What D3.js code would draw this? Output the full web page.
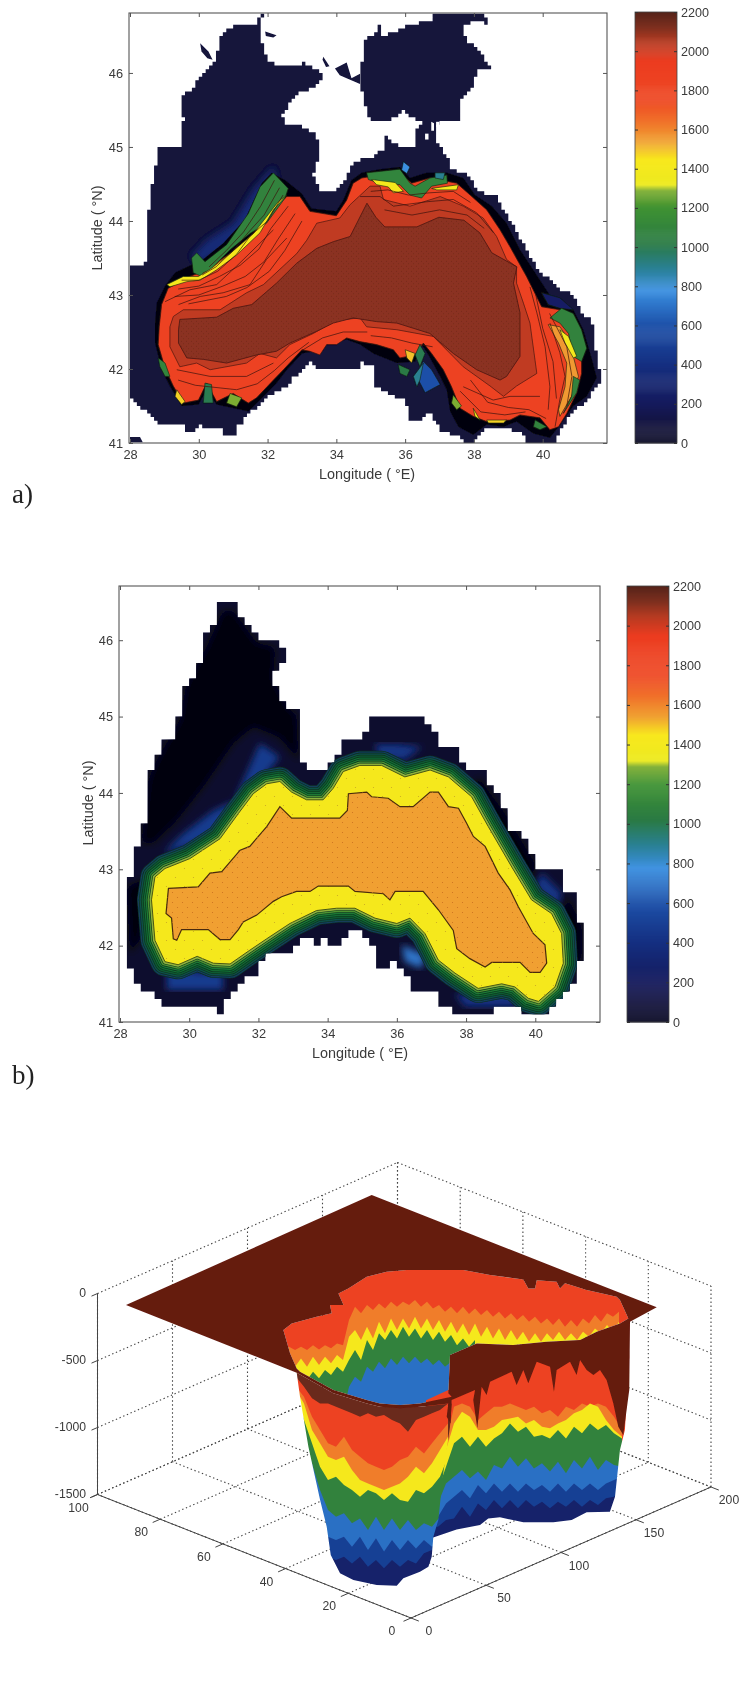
<!DOCTYPE html>
<html>
<head>
<meta charset="utf-8">
<script src="https://cdnjs.cloudflare.com/ajax/libs/d3/7.8.5/d3.min.js"></script>
<style>
body { margin: 0; background: #fff; }
svg { display: block; }
text { font-family: "Liberation Sans", Arial, sans-serif; fill: #3a3a3a; }
.soft text, text.soft { filter: url(#textSoft); }
</style>
</head>
<body>
<script>
// ticks
const lonTicks = [28, 30, 32, 34, 36, 38, 40];
const latTicks = [41, 42, 43, 44, 45, 46];
const depthTicks = [0, 200, 400, 600, 800, 1000, 1200, 1400, 1600, 1800, 2000, 2200];
const xGridTicks = [0, 50, 100, 150, 200];
const yGridTicks = [0, 20, 40, 60, 80, 100];
const zTicks = [0, -500, -1000, -1500];

// colour bar, depth -> colour
const barDepths = [0, 100, 200, 400, 600, 780, 900, 1020, 1200, 1290, 1320, 1450, 1540, 1650, 1750, 1950, 2050, 2120, 2200];
const barColors = ['#17172f', '#14143f', '#151a5c', '#152f80', '#1d50a8', '#3a8fe0', '#2a8090', '#2a7a44', '#3f9233', '#7cad30', '#ecea20', '#f8e81e', '#f0a232', '#f06f2a', '#ee4a25', '#ec3c20', '#b53b22', '#80301f', '#56241a'];

// panel a, [lon, lat] isobaths
const aCoast = [[31.1,46.66],[31.68,46.66],[31.76,46.81],[31.86,46.81],[31.83,46.66],[31.83,46.4],[31.97,46.2],[32.17,46.09],[32.8,46.09],[33.04,46.13],[33.09,46.08],[33.43,46.06],[33.62,45.9],[33.28,45.79],[32.85,45.7],[32.65,45.55],[32.43,45.41],[32.51,45.32],[32.85,45.32],[33.28,45.19],[33.52,45.05],[33.52,44.87],[33.33,44.6],[33.52,44.42],[33.96,44.42],[34.2,44.55],[34.49,44.78],[34.74,44.83],[35.03,44.83],[35.08,44.92],[35.37,44.98],[35.37,45.14],[35.66,45.03],[36.29,45],[36.34,45.27],[36.48,45.34],[36,45.48],[35.61,45.37],[35.03,45.32],[34.79,45.63],[34.69,45.99],[34.84,46.47],[35.13,46.49],[35.17,46.65],[35.27,46.63],[35.27,46.51],[36.34,46.67],[36.77,46.72],[36.82,46.81],[38.32,46.81],[38.37,46.67],[38.08,46.72],[37.69,46.6],[37.79,46.4],[38.13,46.31],[38.45,46.06],[38.08,46.06],[38.03,45.84],[37.65,45.63],[37.62,45.34],[37.02,45.34],[36.84,45.18],[36.97,45],[37.23,44.87],[37.31,44.69],[37.79,44.65],[38.08,44.4],[38.61,44.33],[38.95,44.06],[39.34,43.75],[39.83,43.36],[40.41,43.09],[40.89,43],[41.13,42.75],[41.42,42.64],[41.57,42.15],[41.72,41.85],[41.38,41.59],[40.99,41.45],[40.79,41.36],[40.36,41.02],[39.53,41.02],[39.44,41.13],[38.86,41.22],[38.37,41.22],[38.03,41.02],[37.79,41.02],[37.5,41.11],[37.02,41.18],[36.77,41.41],[36.34,41.25],[36.14,41.34],[36,41.59],[35.37,41.7],[35.08,41.81],[35.08,42.06],[34.69,42.08],[34.69,42.01],[33.43,42.01],[33.28,42.08],[32.56,41.77],[32.17,41.67],[31.78,41.49],[31.49,41.41],[31.2,41.23],[31.05,41.09],[30.76,41.09],[30.67,41.18],[30.28,41.18],[30.13,41.23],[29.94,41.16],[29.65,41.18],[29.55,41.25],[28.92,41.27],[28.44,41.47],[28.05,41.59],[28,43.41],[28.44,43.43],[28.49,43.74],[28.58,44.37],[28.73,44.73],[28.82,44.87],[28.82,44.99],[29.45,44.99],[29.55,45.41],[29.45,45.7],[29.55,45.73],[29.79,45.77],[29.89,45.9],[30.04,45.93],[30.47,46.18],[30.67,46.54]];
const aIslets = [[[30.04,46.4],[30.28,46.29],[30.4,46.18],[30.25,46.2],[30.08,46.29]], [[31.93,46.56],[32.26,46.51],[32.17,46.48],[31.95,46.5]], [[33.62,46.22],[33.8,46.09],[33.7,46.08],[33.6,46.18]], [[33.96,46.06],[34.3,46.14],[34.44,45.93],[34.69,45.99],[34.69,45.85],[34.3,45.93],[34.1,45.97]], [[28,41.08],[28.29,41.08],[28.37,41.01],[28,41.01]]];
const aGaps = [[[36.76,45.34],[36.84,45.32],[36.84,45.22],[36.76,45.22]], [[36.58,45.18],[36.68,45.18],[36.68,45.1],[36.58,45.1]], [[36.9,45.34],[37,45.34],[37,45.27],[36.9,45.27]]];
const aBlueTongue = [[32.17,44.73],[31.59,44.42],[31,43.97],[30.23,43.74],[29.79,43.52],[30.04,43.43],[30.91,43.66],[31.68,43.97],[32.26,44.51]];
const aBlackFringe = [[28.73,42.62],[28.78,42.89],[29.02,43.12],[29.31,43.3],[29.79,43.41],[30.04,43.45],[30.71,43.7],[31.34,44.02],[31.83,44.51],[32.12,44.65],[32.51,44.55],[32.99,44.37],[33.28,44.17],[34,44.13],[34.2,44.28],[34.44,44.55],[34.74,44.65],[35.27,44.7],[35.85,44.73],[36.14,44.58],[36.63,44.65],[37.21,44.65],[37.69,44.58],[38.03,44.35],[38.52,44.2],[38.95,43.97],[39.34,43.61],[39.78,43.3],[40.26,42.96],[40.89,42.8],[41.18,42.53],[41.42,42.15],[41.57,41.88],[41.28,41.63],[40.89,41.5],[40.46,41.22],[40.21,41.07],[39.73,41.13],[39.24,41.29],[38.86,41.22],[38.37,41.25],[37.98,41.11],[37.55,41.22],[37.31,41.43],[37.21,41.72],[37.02,41.9],[36.68,42.19],[36.48,42.33],[36.29,42.1],[35.76,42.08],[35.08,42.21],[34.69,42.33],[34.3,42.4],[33.72,42.33],[33.33,42.24],[33,42.21],[32.56,41.99],[32.26,41.81],[31.78,41.58],[31.44,41.43],[30.52,41.52],[30.23,41.72],[29.99,41.52],[29.5,41.5],[29.16,41.77],[28.92,41.99],[28.73,42.35]];
const aRed = [[28.85,42.57],[28.92,42.87],[29.11,43.09],[29.74,43.25],[30.13,43.32],[30.91,43.56],[31.59,43.83],[32.26,44.2],[32.56,44.33],[32.94,44.33],[33.23,44.13],[34,44.07],[34.3,44.28],[34.49,44.51],[34.74,44.58],[35.27,44.62],[35.85,44.65],[36.19,44.51],[36.72,44.58],[37.5,44.51],[37.89,44.35],[38.37,44.15],[38.76,43.88],[39.05,43.65],[39.53,43.25],[39.97,42.84],[40.5,42.8],[40.89,42.57],[41.13,42.3],[41.13,41.94],[40.99,41.68],[40.7,41.4],[40.46,41.22],[40.21,41.18],[39.92,41.34],[39.34,41.38],[39.05,41.31],[38.37,41.29],[37.98,41.36],[37.6,41.47],[37.35,41.76],[37.11,41.99],[36.77,42.21],[36.53,42.35],[36.29,42.19],[35.85,42.15],[35.66,42.26],[35.17,42.33],[34.69,42.37],[34.3,42.42],[34.01,42.33],[33.72,42.33],[33.52,42.19],[33.23,42.24],[33,42.26],[32.46,41.99],[32.17,41.85],[31.68,41.61],[31.44,41.54],[31,41.67],[30.52,41.56],[30.23,41.81],[29.99,41.58],[29.55,41.54],[29.26,41.77],[29.02,42.01],[28.82,42.33]];
const aDarkRed = [[29.16,42.57],[29.26,42.71],[29.55,42.8],[30.62,42.8],[31.39,43.03],[31.88,43.14],[32.85,43.56],[33.14,43.74],[33.43,43.97],[34.1,44.04],[34.4,44.22],[34.98,44.47],[35.27,44.47],[35.37,44.29],[36.14,44.2],[37.02,44.33],[37.69,44.2],[38.27,44.04],[38.66,43.79],[38.95,43.48],[39.24,43.38],[39.24,43.16],[39.44,42.89],[39.63,42.62],[39.83,41.94],[39.24,41.77],[38.86,41.63],[38.47,41.77],[37.69,42.03],[36.82,42.44],[35.76,42.53],[34.88,42.57],[34.69,42.69],[34.01,42.66],[33.33,42.48],[32.65,42.33],[32.26,42.15],[31.78,42.21],[31.39,42.08],[30.33,41.99],[29.94,42.08],[29.45,42.03],[29.16,42.3]];
const aBrown = [[29.41,42.53],[29.45,42.67],[30.52,42.7],[31,42.82],[31.54,42.87],[32.26,43.16],[32.85,43.43],[33.43,43.63],[33.91,43.72],[34.4,43.79],[34.89,44.24],[35.15,44.05],[35.41,43.92],[36.34,43.92],[36.98,44.05],[37.71,44.01],[38.17,43.84],[38.52,43.57],[39.25,43.38],[39.15,43.16],[39.34,42.76],[39.34,42.17],[38.95,41.9],[38.76,41.85],[38.08,41.99],[37.4,42.21],[36.72,42.48],[35.76,42.62],[35.17,42.64],[34.49,42.69],[33.91,42.62],[33.43,42.51],[32.65,42.35],[32.26,42.24],[31.68,42.19],[30.81,42.08],[30.13,42.13],[29.65,42.15],[29.41,42.35]];
const aContours = [[[29.02,42.91],[29.74,43.07],[30.52,43.14],[31.1,43.39],[31.78,43.7],[32.17,43.88]], [[29.41,42.87],[30.04,42.98],[30.71,43.03],[31.49,43.14],[31.97,43.48],[32.56,43.77]], [[34.69,44.33],[35.27,44.33],[35.66,44.2],[36.63,44.26],[37.4,44.29],[38.08,44.11],[38.57,43.84]], [[39.63,43.11],[39.83,42.76],[40.07,42.3],[40.21,41.76],[40.16,41.45]], [[40.21,42.62],[40.5,42.22],[40.65,41.9],[40.5,41.59],[40.36,41.22]], [[37.69,41.76],[38.56,41.58],[39.05,41.63],[39.92,41.63]], [[29.36,41.99],[30.33,41.9],[31.39,41.9],[32.17,42.08]],
  [[32.2,44.55],[31.8,44.2],[31.3,43.85],[30.8,43.6],[30.3,43.38]], [[32.35,44.45],[31.9,44.08],[31.45,43.85],[31,43.6],[30.5,43.38],[30.1,43.27]], [[32.45,44.35],[32,44],[31.5,43.8],[31.1,43.55],[30.55,43.32],[30,43.2],[29.5,43.2]],
  [[32.6,44.2],[32.1,43.9],[31.75,43.62],[31.2,43.4],[30.6,43.25],[30,43.12],[29.4,43.08]], [[32.8,44.1],[32.3,43.75],[31.9,43.45],[31.35,43.25],[30.7,43.12],[30,43],[29.3,42.98]], [[33,44],[32.5,43.6],[32.05,43.32],[31.4,43.1],[30.8,42.98],[29.7,42.88]],
  [[33.2,42.36],[32.6,42.15],[32.2,41.98],[31.7,41.8],[31.1,41.72],[30.5,41.75],[29.9,41.78],[29.4,41.85]], [[34.9,42.5],[34.2,42.5],[33.6,42.42],[33,42.25]], [[36.8,42.3],[36.2,42.35],[35.6,42.42],[35,42.45]],
  [[37.9,41.85],[38.4,41.55],[39,41.48],[39.6,41.45],[40.1,41.33]], [[37.6,41.7],[38.2,41.42],[38.9,41.38],[39.5,41.42]], [[39.8,43],[40,42.55],[40.3,42.1],[40.4,41.6]], [[40.2,42.75],[40.7,42.3],[40.85,41.9],[40.7,41.5]],
  [[35,44.4],[35.5,44.42],[36.1,44.35],[36.7,44.38],[37.4,44.4],[37.9,44.25]], [[35.4,44.15],[36.2,44.08],[37,44.15],[37.8,44.08],[38.3,43.9]]];
// patches of shallower water on the slope
const aPatchDepths = [1080, 1420, 1100, 1420, 1420, 780, 900, 250, 1080, 1560, 1400, 1080, 600, 900, 1020, 1500, 1000, 1400, 1080, 1480, 1290, 1100, 1000, 1290, 1480];
const aPatches = [
  [[32.17,44.65],[32.6,44.44],[32.51,44.31],[31.97,43.97],[31.49,43.83],[30.91,43.61],[30.33,43.34],[30.13,43.3],[30.08,43.25],[29.84,43.3],[29.79,43.5],[29.94,43.57],[30.18,43.45],[30.81,43.68],[31.44,44.1],[31.78,44.46]],
  [[32.56,44.35],[32.17,44.15],[31.78,43.84],[31.1,43.54],[30.52,43.34],[30.04,43.2],[29.65,43.18],[29.16,43.11],[29.07,43.14],[29.55,43.25],[29.99,43.25],[30.37,43.36],[30.91,43.56],[31.59,43.83],[32.31,44.26]],
  [[34.88,44.65],[35.85,44.7],[36.14,44.51],[36.29,44.47],[36.72,44.58],[37.21,44.62],[37.23,44.51],[36.77,44.47],[36.48,44.31],[36.14,44.35],[35.85,44.49],[35.27,44.51],[34.93,44.56]],
  [[35.03,44.56],[35.71,44.52],[35.95,44.4],[35.66,44.38],[35.51,44.46],[35.17,44.49]],
  [[36.77,44.44],[37.55,44.49],[37.5,44.42],[36.92,44.42]],
  [[35.95,44.8],[36.14,44.73],[36.05,44.64],[35.9,44.69]],
  [[36.87,44.65],[37.16,44.65],[37.11,44.56],[36.87,44.58]],
  [[39.97,43.03],[40.5,42.96],[40.89,42.8],[40.5,42.82],[40.16,42.87]],
  [[40.21,42.69],[40.55,42.82],[40.89,42.75],[41.13,42.53],[41.28,42.28],[41.13,42.1],[40.89,42.17],[40.75,42.48],[40.5,42.62]],
  [[40.16,42.6],[40.5,42.57],[40.75,42.4],[40.89,42.17],[41.04,41.9],[40.84,41.63],[40.5,41.36],[40.46,41.45],[40.65,41.76],[40.7,42.08],[40.46,42.35]],
  [[40.5,42.53],[40.75,42.44],[40.99,42.17],[40.89,42.15],[40.65,42.35]],
  [[40.89,41.9],[41.08,41.85],[40.99,41.68],[40.6,41.4],[40.84,41.63]],
  [[36.53,42.1],[36.77,41.99],[37.02,41.79],[36.58,41.68],[36.39,41.85],[36.43,42.03]],
  [[36.24,41.9],[36.53,42.08],[36.43,41.85],[36.34,41.76]],
  [[35.8,42.06],[36.14,41.99],[36.05,41.9],[35.85,41.94]],
  [[36,42.26],[36.29,42.21],[36.19,42.08],[36.05,42.15]],
  [[36.43,42.33],[36.58,42.21],[36.43,42.03],[36.29,42.19]],
  [[37.98,41.47],[38.18,41.31],[38.03,41.36]],
  [[39.78,41.31],[40.12,41.22],[39.92,41.18],[39.73,41.22]],
  [[38.37,41.31],[38.95,41.31],[38.86,41.27],[38.42,41.27]],
  [[37.4,41.65],[37.64,41.5],[37.5,41.45],[37.35,41.54]],
  [[28.82,42.15],[29.02,42.08],[29.16,41.9],[29.02,41.9],[28.87,42.03]],
  [[30.18,41.81],[30.37,41.79],[30.42,41.54],[30.13,41.54]],
  [[30.91,41.67],[31.25,41.61],[31.1,41.49],[30.81,41.54]],
  [[29.36,41.72],[29.6,41.56],[29.5,41.52],[29.31,41.63]]
];

// panel b, smoothed [lon, lat] isobaths
const bCoast = [[30.86,46.46],[31.32,46.46],[31.42,46.33],[31.75,46.13],[32.04,45.98],[32.57,45.96],[32.62,45.85],[32.79,45.83],[32.79,45.72],[32.48,45.52],[32.52,45.28],[32.81,45.11],[33.2,45.08],[33.2,44.73],[33.28,44.39],[33.49,44.28],[33.83,44.28],[34.4,44.56],[34.4,44.7],[34.93,44.7],[35.27,44.95],[36.19,44.95],[36.23,45.03],[36.62,45.03],[36.86,44.93],[37.15,44.69],[37.2,44.6],[37.58,44.56],[38.02,44.28],[38.4,44.25],[39.03,43.82],[39.27,43.55],[39.7,43.34],[40.09,43.03],[40.57,43.03],[40.86,42.73],[41.15,42.71],[41.19,42.38],[41.39,42.25],[41.41,41.85],[41.19,41.55],[40.95,41.38],[40.38,41.11],[39.61,41.09],[39.51,41.2],[38.79,41.2],[38.74,41.09],[37.87,41.09],[37.39,41.24],[37.1,41.38],[36.43,41.46],[36.38,41.64],[36.04,41.77],[35.46,41.7],[35.42,41.9],[35.08,42.16],[34.79,42.27],[34.64,42.12],[34.4,42.01],[34.11,42.01],[33.97,42.14],[33.73,42.01],[33.49,42.14],[33.25,42.07],[32.81,41.87],[32.33,41.87],[31.95,41.64],[31.56,41.48],[31.13,41.33],[31.03,41.14],[30.79,41.14],[30.7,41.2],[29.73,41.2],[29.25,41.2],[28.96,41.37],[28.58,41.46],[28.38,41.68],[28.19,41.74],[28.1,42.03],[28.1,42.86],[28.34,43.03],[28.34,43.3],[28.58,43.38],[28.72,43.73],[28.77,44.17],[28.91,44.41],[29.01,44.52],[29.2,44.69],[29.59,44.78],[29.68,44.95],[29.78,45.3],[30.02,45.46],[30.45,45.91],[30.45,46.09],[30.79,46.22]];
const bYellow = [[28.91,42.6],[29.01,42.9],[29.3,43.01],[30.02,43.14],[30.89,43.4],[31.42,43.73],[31.85,43.99],[32.24,44.12],[32.62,44.15],[32.96,44.01],[33.39,43.91],[33.87,43.91],[34.16,44.06],[34.45,44.28],[34.93,44.36],[35.56,44.36],[36.23,44.21],[36.96,44.3],[37.49,44.21],[38.16,43.95],[38.64,43.56],[39.32,43.03],[39.89,42.6],[40.47,42.42],[40.76,42.16],[40.81,41.77],[40.57,41.46],[40.09,41.27],[39.8,41.31],[39.41,41.46],[39.03,41.5],[38.35,41.44],[37.68,41.64],[37.2,41.81],[36.81,42.16],[36.38,42.36],[36,42.29],[35.37,42.36],[34.79,42.49],[34.26,42.49],[33.68,42.46],[32.91,42.29],[32.24,42.09],[31.75,41.94],[31.18,41.76],[30.7,41.77],[30.23,41.86],[29.68,41.75],[29.3,41.79],[29.01,42.07]];
const bOrange = [[29.4,42.75],[30.26,42.77],[30.6,42.95],[30.94,42.97],[31.47,43.25],[31.75,43.3],[32.24,43.56],[32.62,43.82],[32.96,43.67],[34.35,43.67],[34.57,43.77],[34.6,43.99],[35.13,44.01],[35.27,43.95],[35.75,43.93],[36.09,43.82],[36.47,43.82],[36.96,44.01],[37.2,44.01],[37.49,43.82],[37.78,43.8],[38.02,43.6],[38.21,43.43],[38.55,43.3],[38.93,42.95],[39.27,42.73],[39.51,42.51],[39.94,42.16],[40.28,42.01],[40.33,41.77],[40.14,41.65],[39.85,41.65],[39.56,41.78],[38.74,41.78],[38.55,41.72],[38.11,41.83],[37.73,41.96],[37.63,42.2],[37.2,42.47],[36.76,42.71],[35.95,42.71],[35.8,42.6],[35.61,42.68],[34.79,42.71],[34.6,42.78],[33.73,42.78],[33.49,42.71],[33.1,42.71],[32.67,42.64],[32.43,42.58],[31.95,42.4],[31.56,42.31],[31.42,42.21],[31.18,42.08],[30.89,42.08],[30.55,42.21],[29.78,42.21],[29.64,42.07],[29.54,42.09],[29.49,42.36],[29.33,42.42]];
const bBlack = [[[30.98,46.39],[31.27,46.39],[31.95,45.96],[32.48,45.91],[32.43,45.48],[32.91,45.08],[33.1,45.04],[33.15,44.43],[32.62,44.73],[31.85,44.87],[31.27,44.65],[30.41,44.08],[29.64,43.64],[28.96,43.34],[28.62,43.34],[28.82,44.17],[29.06,44.43],[29.73,44.95],[29.92,45.43],[30.5,45.91]], [[38.35,44.21],[39.12,43.73],[39.99,43.08],[39.89,42.82],[39.03,43.43],[38.16,44.03]], [[28.19,42.77],[28.87,42.9],[28.58,42.07],[28.29,41.9]], [[40.95,42.64],[41.34,42.25],[41.34,41.85],[40.95,41.55],[40.76,42.42]]];
const bGlowDepths = [470, 700, 430, 470, 420, 430];
const bGlows = [[[32.04,44.65],[32.62,44.47],[31.75,43.99],[30.7,43.77],[29.83,43.47],[29.25,43.21],[29.92,43.3],[30.89,43.47]], [[36.14,42.01],[36.81,41.88],[36.71,41.7],[36.23,41.79]], [[35.37,44.64],[36.04,44.64],[36.72,44.6],[36.23,44.43],[35.46,44.47]], [[29.35,41.68],[30.98,41.64],[30.98,41.42],[29.35,41.42]], [[37.68,41.37],[39.41,41.37],[39.41,41.2],[37.97,41.2]], [[40.18,42.95],[40.76,42.69],[40.66,42.51],[39.99,42.77]]];
const bRingColors = ['#123c5a', '#0f4f4a', '#0c5a33', '#126b33', '#1c7a35', '#4d9433', '#8fb33c'];

// panel c, walls of the surface: depth at which each colour starts, column by column
const farOrange = [-426,-401,-426,-401,-426,-389,-421,-389,-413,-376,-389,-202,-102,-152,-90,-127,-78,-115,-65,-102,-65,-90,-53,-102,-65,-115,-90,-140,-102,-152,-102,-157,-115,-165,-127,-177,-140,-190,-152,-202,-165,-214,-177,-227,-190,-239,-190,-252,-202,-252,-190,-227,-165,-214,-152,-177,-140];
const farYellow = [-550,-500,-550,-488,-550,-476,-538,-476,-525,-463,-500,-326,-277,-351,-252,-339,-214,-301,-190,-277,-190,-264,-177,-264,-190,-277,-202,-289,-214,-301,-227,-314,-227,-326,-252,-339,-264,-351,-277,-351,-289,-364,-301,-364,-301,-351,-289,-351,-301,-351,-289,-326,-264,-301,-239,-289,-214];
const farGreen = [-650,-625,-662,-600,-650,-587,-637,-575,-612,-550,-587,-500,-426,-500,-351,-426,-301,-351,-277,-339,-252,-326,-264,-339,-277,-351,-289,-364,-314,-389,-339,-401,-351];
const farBlue = [-900,-900,-900,-900,-900,-900,-900,-900,-900,-900,-900,-699,-625,-662,-550,-587,-513,-562,-488,-538,-476,-525,-476,-525,-488,-538,-500,-550,-513,-550,-525,-575,-550];

const leftRed = [-625,-699,-786,-824,-824,-849,-873,-898,-923,-898,-923,-911,-948,-973,-1035,-948,-923,-898,-873,-824];
const leftOrange = [-699,-774,-923,-1023,-1122,-1147,-1072,-1172,-1222,-1271,-1296,-1321,-1296,-1246,-1222,-1147,-1197,-1122,-1047,-973];
const leftYellow = [-724,-824,-1023,-1122,-1222,-1246,-1222,-1321,-1396,-1421,-1446,-1470,-1446,-1421,-1371,-1296,-1346,-1271,-1172,-1072];
const leftGreen = [-774,-948,-1122,-1296,-1396,-1371,-1433,-1470,-1520,-1470,-1495,-1545,-1495,-1545,-1557,-1470,-1495,-1446,-1371,-1222];
const leftBlue = [-973,-1122,-1271,-1470,-1620,-1669,-1644,-1719,-1682,-1769,-1669,-1769,-1682,-1769,-1694,-1769,-1719,-1744,-1669,-1470];
const leftRoyal = [-1470,-1470,-1620,-1719,-1819,-1843,-1819,-1893,-1819,-1918,-1831,-1930,-1843,-1918,-1843,-1906,-1843,-1893,-1843,-1719];
const leftNavy = [-1719,-1843,-1918,-1943,-1968,-1993,-1968,-2018,-1968,-2042,-1993,-2055,-1993,-2042,-1993,-2018,-1943,-1918,-1943,-1843];

const rightOrange = [-1321,-1321,-1321,-1122,-849,-824,-849,-948,-898,-849,-849,-824,-849,-873,-849,-898,-873,-923,-849,-873,-824,-849,-824,-849,-923,-1023];
const rightYellow = [-1421,-1421,-1421,-1172,-973,-886,-923,-1023,-1023,-998,-948,-936,-923,-973,-948,-998,-1010,-973,-948,-898,-873,-824,-849,-948,-1023,-1072];
const rightGreen = [-1470,-1470,-1470,-1296,-1122,-1072,-1147,-1072,-1147,-1085,-1047,-973,-1035,-998,-1072,-1060,-1085,-1023,-1085,-998,-1047,-973,-1023,-986,-1047,-1085];
const rightBlue = [-1570,-1570,-1570,-1421,-1371,-1321,-1383,-1333,-1396,-1284,-1309,-1222,-1296,-1234,-1309,-1271,-1333,-1259,-1346,-1246,-1309,-1222,-1321,-1246,-1284,-1296];
const rightRoyal = [-1669,-1669,-1669,-1570,-1520,-1470,-1532,-1433,-1495,-1421,-1483,-1421,-1483,-1421,-1470,-1433,-1483,-1421,-1483,-1421,-1470,-1421,-1470,-1421,-1396,-1371];
const rightNavy = [-1744,-1744,-1744,-1694,-1682,-1595,-1669,-1570,-1620,-1545,-1607,-1545,-1607,-1545,-1595,-1557,-1607,-1557,-1595,-1545,-1595,-1545,-1582,-1532,-1520,-1470];

// [along view, depth on the z axis scale]
const topPlane = [[-190,-90],[-26.2,731],[163.8,-107],[146,-214],[145.5,-724],[141.5,-1060],[138.2,-998],[134.9,-824],[130.4,-650],[126,-575],[121.6,-612],[117.1,-575],[112.7,-500],[110.4,-612],[106,-513],[97.1,-575],[95.3,-737],[92.7,-550],[83.8,-513],[78.2,-674],[74.9,-575],[70.4,-687],[67.1,-587],[52.7,-662],[50.4,-761],[47.1,-699],[44.2,-1010],[41.5,-799],[42.7,-724],[27.1,-799],[26.4,-973],[23.8,-923],[24.9,-824],[6,-849],[-7.3,-861],[-20.7,-849],[-29.5,-824],[-51.7,-749],[-76.2,-595]];
const topHole = [[-85.1,-276],[-79.5,-227],[-62.9,-177],[-52.9,-152],[-54,-90],[-45,-90],[-48.4,-3],[-41.8,34],[-29.5,121],[-16.2,159],[-2.9,171],[34.9,171],[52.7,134],[74.9,101],[78.2,34],[82.7,34],[83.8,96],[97.1,84],[99.3,34],[102.7,72],[117.1,22],[137.1,-28],[139.3,-53],[144.9,-190],[139.3,-227],[123.8,-289],[112.7,-351],[90.4,-364],[68.2,-388],[43.8,-376],[26,-463],[24.9,-749],[27.1,-774],[6,-824],[-7.3,-836],[-20.7,-824],[-29.5,-799],[-51.7,-724],[-74,-587],[-76.2,-563],[-80.6,-451]];
const leftWall = [[-76.2,-595],[-74,-774],[-68.4,-1147],[-60.6,-1545],[-56.2,-1744],[-53.5,-1955],[-47.3,-2092],[-38.4,-2142],[-22.9,-2179],[-9.5,-2184],[-5.1,-2129],[6,-2080],[11.6,-2042],[13.8,-1968],[14.9,-1819],[18.2,-1694],[21.5,-1346],[26,-998],[27.1,-824],[6,-849],[-20.7,-849],[-29.5,-824],[-51.7,-749]];
const rightWall = [[8,-1850],[30.4,-1764],[46,-1731],[51.5,-1682],[59.3,-1674],[74.9,-1711],[94.9,-1711],[107.1,-1694],[117.1,-1637],[132.6,-1632],[136,-1520],[139.3,-1172],[142.6,-1023],[145.5,-476],[144.9,-277],[112.7,-401],[24.9,-724],[10,-800]];

const color = d3.scaleLinear().domain(barDepths).range(barColors);

const svg = d3.select("body").append("svg").attr("width", 741).attr("height", 1690);

const defs = svg.append("defs");
[["soft", 0.7], ["softer", 3.5], ["textSoft", 0.35]].forEach(f => {
    defs.append("filter").attr("id", f[0])
        .attr("x", "-10%").attr("y", "-10%").attr("width", "120%").attr("height", "120%")
        .append("feGaussianBlur").attr("stdDeviation", f[1]);
});
// grain of the printed colours
[["grainBrown", "#5e2014", 2.5, .4], ["grainYellow", "#c9a820", 9, .6], ["grainOrange", "#c9701e", 5, .6]].forEach(p => {
    const pat = defs.append("pattern").attr("id", p[0]).attr("patternUnits", "userSpaceOnUse")
        .attr("width", p[2] * 2).attr("height", p[2] * 2);
    pat.append("circle").attr("cx", p[2] * .5).attr("cy", p[2] * .5).attr("r", p[3]).attr("fill", p[1]);
    pat.append("circle").attr("cx", p[2] * 1.5).attr("cy", p[2] * 1.5).attr("r", p[3]).attr("fill", p[1]);
});

// snap an outline to the model grid, so that it gets its stepped edge
function staircase(pts, dLon, dLat) {
    const out = [];
    const snap = p => [Math.round(p[0] / dLon) * dLon, Math.round(p[1] / dLat) * dLat];
    pts.forEach((p, i) => {
        const q = pts[(i + 1) % pts.length];
        const n = Math.ceil(Math.max(Math.abs(q[0] - p[0]) / dLon, Math.abs(q[1] - p[1]) / dLat)) || 1;
        d3.range(n).forEach(k => {
            const s = snap([p[0] + (q[0] - p[0]) * k / n, p[1] + (q[1] - p[1]) * k / n]);
            const last = out[out.length - 1];
            if (last && last[0] !== s[0] && last[1] !== s[1]) out.push([s[0], last[1]]);
            if (!last || last[0] !== s[0] || last[1] !== s[1]) out.push(s);
        });
    });
    return out;
}

function drawFrame(g, x, y, title, titleX, titleY, ylabelX, ylabelY) {
    const x0 = x.range()[0] - 1, x1 = x.range()[1];
    const y0 = y.range()[0], y1 = y.range()[1];
    g.append("rect").attr("x", x0).attr("y", y1).attr("width", x1 - x0).attr("height", y0 - y1)
        .attr("fill", "none").attr("stroke", "#555").attr("stroke-width", 1.1);
    const axes = [
        [d3.axisBottom(x).tickValues(lonTicks).tickFormat(d3.format("d")).tickSize(-4).tickPadding(7), 0, y0],
        [d3.axisTop(x).tickValues(lonTicks).tickFormat("").tickSize(-4), 0, y1],
        [d3.axisLeft(y).tickValues(latTicks).tickFormat(d3.format("d")).tickSize(-4).tickPadding(6), x0, 0],
        [d3.axisRight(y).tickValues(latTicks).tickFormat("").tickSize(-4), x1, 0]
    ];
    axes.forEach(a => {
        g.append("g").attr("transform", `translate(${a[1]},${a[2]})`).call(a[0])
         .call(s => s.select(".domain").remove())
         .call(s => s.selectAll("line").attr("stroke", "#555"))
         .call(s => s.selectAll("text").attr("class", "soft").attr("font-size", 12.8).attr("font-family", null).style("fill", "#3a3a3a"));
    });
    g.append("text").attr("class", "soft").attr("x", titleX).attr("y", titleY).attr("text-anchor", "middle")
        .attr("font-size", 14.4).text(title);
    g.append("text").attr("class", "soft").attr("transform", `translate(${ylabelX},${ylabelY}) rotate(-90)`)
        .attr("text-anchor", "middle").attr("font-size", 14.4).text("Latitude ( \u00b0N)");
}

function drawBar(g, x0, x1, y0, y1) {
    const y = d3.scaleLinear().domain([0, 2200]).range([y0, y1]);
    g.append("g").selectAll("rect").data(d3.range(0, 2200, 5)).join("rect")
        .attr("x", x0).attr("width", x1 - x0)
        .attr("y", d => y(d + 5)).attr("height", d => y(d) - y(d + 5) + .5)
        .attr("fill", d => color(d + 2.5));
    g.append("rect").attr("x", x0).attr("y", y1).attr("width", x1 - x0).attr("height", y0 - y1)
        .attr("fill", "none").attr("stroke", "#444").attr("stroke-width", .8);
    g.append("g").attr("transform", `translate(${x1},0)`)
        .call(d3.axisRight(y).tickValues(depthTicks).tickFormat(d3.format("d")).tickSize(-3).tickPadding(4))
        .call(s => s.select(".domain").remove())
        .call(s => s.selectAll("line").attr("stroke", "#333"))
        .call(s => s.selectAll("text").attr("class", "soft").attr("font-size", 12.6).attr("font-family", null).style("fill", "#3a3a3a"));
    g.append("g").attr("transform", `translate(${x0},0)`)
        .call(d3.axisLeft(y).tickValues(depthTicks).tickFormat("").tickSize(-3))
        .call(s => s.select(".domain").remove())
        .call(s => s.selectAll("line").attr("stroke", "#333"));
}

// ---------- a) ----------
{
    const x = d3.scaleLinear().domain([28, 41.87]).range([130, 607]);
    const y = d3.scaleLinear().domain([41, 46.81]).range([443, 13]);
    const line = d3.line().x(d => x(d[0])).y(d => y(d[1]));
    const poly = d => line(d) + "Z";
    const g = svg.append("g");
    const coast = staircase(aCoast, .1, .05);

    defs.append("clipPath").attr("id", "aClip").append("path").attr("d", poly(coast));

    const sea = g.append("g").attr("filter", "url(#soft)");
    sea.append("path").attr("d", poly(coast)).attr("fill", "#12123a");
    sea.selectAll(".islet").data(aIslets).join("path").attr("class", "islet").attr("d", poly).attr("fill", "#12123a");
    sea.selectAll(".gap").data(aGaps).join("path").attr("class", "gap").attr("d", poly).attr("fill", "#fff");
    sea.append("path").attr("d", poly(aBlueTongue)).attr("fill", color(350)).attr("filter", "url(#softer)").attr("clip-path", "url(#aClip)");
    sea.append("path").attr("d", poly(aBlackFringe)).attr("fill", "#060608");
    sea.append("path").attr("d", poly(aRed)).attr("fill", color(1850)).attr("stroke", "#3c120c").attr("stroke-width", .7);
    sea.append("path").attr("d", poly(aDarkRed)).attr("fill", color(2030)).attr("stroke", "#4a1510").attr("stroke-width", .7);
    sea.append("path").attr("d", poly(aBrown)).attr("fill", color(2105)).attr("stroke", "#4a1510").attr("stroke-width", .8);
    sea.append("path").attr("d", poly(aBrown)).attr("fill", "url(#grainBrown)");
    sea.selectAll(".patch").data(aPatches).join("path").attr("class", "patch").attr("d", poly)
        .attr("fill", (d, i) => color(aPatchDepths[i])).attr("stroke", "#10200f").attr("stroke-width", .6);
    sea.selectAll(".iso").data(aContours).join("path").attr("class", "iso").attr("d", line)
        .attr("fill", "none").attr("stroke", "#3c120c").attr("stroke-width", .7);

    drawFrame(g, x, y, "Longitude ( \u00b0E)", 367, 479, 102, 228);
    drawBar(g, 635, 677, 443, 12);
}
svg.append("text").attr("class", "soft").attr("x", 12).attr("y", 503)
    .attr("font-size", 27).style("font-family", "'Liberation Serif', serif").style("fill", "#222").text("a)");

// ---------- b) ----------
{
    const x = d3.scaleLinear().domain([28, 41.87]).range([120, 600]);
    const y = d3.scaleLinear().domain([41, 46.71]).range([1022, 586]);
    const line = d3.line().x(d => x(d[0])).y(d => y(d[1]));
    const poly = d => line(d) + "Z";
    const g = svg.append("g");
    const coast = staircase(bCoast, .2, .1);

    defs.append("clipPath").attr("id", "bClip").append("path").attr("d", poly(coast));

    const sea = g.append("g").attr("filter", "url(#soft)");
    sea.append("path").attr("d", poly(coast)).attr("fill", "#0d0d2e");
    const inner = sea.append("g").attr("clip-path", "url(#bClip)");
    inner.selectAll(".glow").data(bGlows).join("path").attr("class", "glow").attr("d", poly)
        .attr("fill", (d, i) => color(bGlowDepths[i])).attr("filter", "url(#softer)");
    inner.selectAll(".black").data(bBlack).join("path").attr("class", "black").attr("d", poly)
        .attr("fill", "#05050f").attr("filter", "url(#softer)");
    // green slope around the 1300 m isobath, darkest at the outside
    bRingColors.forEach((c, i) => {
        const half = 14 - i * 2;
        inner.append("path").attr("d", poly(bYellow)).attr("fill", "none").attr("stroke-linejoin", "round")
            .attr("stroke", "#0b2f1c").attr("stroke-width", half * 2 + 1.2);
        inner.append("path").attr("d", poly(bYellow)).attr("fill", "none").attr("stroke-linejoin", "round")
            .attr("stroke", c).attr("stroke-width", half * 2);
    });
    sea.append("path").attr("d", poly(bYellow)).attr("fill", color(1420)).attr("stroke", "#3c4a10").attr("stroke-width", .9);
    sea.append("path").attr("d", poly(bYellow)).attr("fill", "url(#grainYellow)");
    sea.append("path").attr("d", poly(bOrange)).attr("fill", color(1545)).attr("stroke", "#4a2c0c").attr("stroke-width", 1.2);
    sea.append("path").attr("d", poly(bOrange)).attr("fill", "url(#grainOrange)");

    drawFrame(g, x, y, "Longitude ( \u00b0E)", 360, 1058, 93, 803);
    drawBar(g, 627, 669, 1022, 586);
}
svg.append("text").attr("class", "soft").attr("x", 12).attr("y", 1084)
    .attr("font-size", 27).style("font-family", "'Liberation Serif', serif").style("fill", "#222").text("b)");

// ---------- c) ----------
{
    const u = d3.scaleLinear().domain([0, 200]).range([411, 711]);
    const z = d3.scaleLinear().domain([-1500, 0]).range([1494, 1293]);
    // oblique view of the grid: a point of the box
    const along = (gx, gy) => gx - 2.09 * gy;
    const drop = (gx, gy) => 124 - .655 * gx - 1.235 * gy;
    const px = (gx, gy, gz) => [u(along(gx, gy)), z(gz) + drop(gx, gy)];
    const boxLine = d3.line();

    const g = svg.append("g");

    const grid = g.append("g").attr("fill", "none").attr("stroke", "#444").attr("stroke-width", 1.1)
        .attr("stroke-dasharray", "1.4,2.6");
    const seg = (a, b) => grid.append("path").attr("d", boxLine([a, b]));
    xGridTicks.forEach(t => {
        seg(px(t, 0, -1500), px(t, 100, -1500));
        seg(px(t, 100, -1500), px(t, 100, 0));
    });
    yGridTicks.forEach(t => {
        seg(px(0, t, -1500), px(200, t, -1500));
        seg(px(200, t, -1500), px(200, t, 0));
    });
    zTicks.forEach(t => {
        seg(px(0, 100, t), px(200, 100, t));
        seg(px(200, 100, t), px(200, 0, t));
    });

    // solid axes
    const axes = g.append("g").attr("fill", "none").attr("stroke", "#444").attr("stroke-width", 1);
    axes.append("path").attr("d", boxLine([px(0, 100, 0), px(0, 100, -1500), px(0, 0, -1500), px(200, 0, -1500)]));
    zTicks.forEach(t => axes.append("path").attr("d", boxLine([px(0, 100, t), px(-4, 100, t)])));
    yGridTicks.forEach(t => axes.append("path").attr("d", boxLine([px(0, t, -1500), px(-5, t, -1500)])));
    xGridTicks.forEach(t => axes.append("path").attr("d", boxLine([px(t, 0, -1500), px(t, -2.5, -1500)])));

    const labels = g.append("g").attr("font-size", 12.2);
    labels.selectAll(".zl").data(zTicks).join("text").attr("class", "zl soft")
        .attr("x", 86).attr("y", d => px(0, 100, d)[1] + 3).attr("text-anchor", "end").text(d => d);
    labels.selectAll(".yl").data(yGridTicks).join("text").attr("class", "yl soft")
        .attr("x", d => px(0, d, -1500)[0] - 19).attr("y", d => px(0, d, -1500)[1] + 17)
        .attr("text-anchor", "middle").text(d => d);
    labels.selectAll(".xl").data(xGridTicks).join("text").attr("class", "xl soft")
        .attr("x", d => px(d, 0, -1500)[0] + 18).attr("y", d => px(d, 0, -1500)[1] + 17)
        .attr("text-anchor", "middle").text(d => d);

    const line = d3.line().x(d => u(d[0])).y(d => z(d[1]));
    const poly = d => line(d) + "Z";
    const floor = -2300;
    const band = (parent, values, u0, step, depth) => parent.append("path")
        .attr("fill", color(depth))
        .attr("d", d3.area().x((d, i) => u(u0 + i * step)).y0(z(floor)).y1(d => z(d))(values));

    defs.append("clipPath").attr("id", "holeClip").append("path").attr("d", poly(topHole));
    defs.append("clipPath").attr("id", "leftClip").append("path").attr("d", poly(leftWall));
    defs.append("clipPath").attr("id", "rightClip").append("path").attr("d", poly(rightWall));

    // far wall, seen through the open top
    const far = g.append("g").attr("clip-path", "url(#holeClip)").append("g").attr("filter", "url(#soft)");
    far.append("path").attr("d", poly(topHole)).attr("fill", color(1850)).attr("stroke", color(1850)).attr("stroke-width", 6);
    [[farOrange, 1620], [farYellow, 1420], [farGreen, 1080], [farBlue, 690]].forEach(b => band(far, b[0], -85.33, 4, b[1]));

    // right front wall
    const right = g.append("g").attr("clip-path", "url(#rightClip)").append("g").attr("filter", "url(#soft)");
    right.append("path").attr("d", poly(rightWall)).attr("fill", color(1850)).attr("stroke", color(1850)).attr("stroke-width", 4);
    [[rightOrange, 1620], [rightYellow, 1420], [rightGreen, 1080], [rightBlue, 690], [rightRoyal, 500], [rightNavy, 280]]
        .forEach(b => band(right, b[0], 7.33, 5.333, b[1]));

    // left front wall
    const left = g.append("g").attr("clip-path", "url(#leftClip)").append("g").attr("filter", "url(#soft)");
    left.append("path").attr("d", poly(leftWall)).attr("fill", color(2160)).attr("stroke", color(2160)).attr("stroke-width", 4);
    [[leftRed, 1850], [leftOrange, 1620], [leftYellow, 1420], [leftGreen, 1080], [leftBlue, 690], [leftRoyal, 500], [leftNavy, 280]]
        .forEach(b => band(left, b[0], -76.67, 5.333, b[1]));

    // flat top and the brown drips under it
    g.append("path").attr("d", poly(topPlane) + poly(topHole)).attr("fill-rule", "evenodd")
        .attr("fill", "#651a0f").attr("filter", "url(#soft)");
}
</script>
</body>
</html>
